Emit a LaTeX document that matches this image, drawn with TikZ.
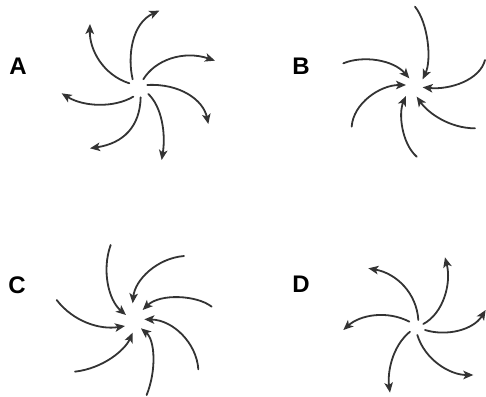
\documentclass[tikz,border=0pt]{standalone}
\usepackage{fontspec}
\setmainfont{Liberation Sans}
\usepackage{tikz}
\usetikzlibrary{arrows.meta}

\tikzset{
  arm/.style={line width=1.8pt, draw=black!80, line cap=round,
    -{Stealth[length=10pt,width=8.5pt,inset=2.5pt]}},
  lbl/.style={font=\bfseries\fontsize{24}{24}\selectfont, inner sep=0pt},
  panel/.style={x=0.3333pt, y=-0.3333pt}
}

\begin{document}
\begin{tikzpicture}[x=1pt, y=-1pt]
  \useasboundingbox (0,0) rectangle (486,396);

  % labels
  \node[lbl] (labA) at (18,66)  {A};
  \node[lbl] (labB) at (301,66) {B};
  \node[lbl] (labC) at (17,285) {C};
  \node[lbl] (labD) at (301,284) {D};

  % A: arms going out
  \begin{scope}[shift={(40,0)}, panel]
    \draw[arm] (278,238) .. controls (262,170) and (275,70) .. (358,32);
    \draw[arm] (268,250) .. controls (190,225) and (148,150) .. (150,72);
    \draw[arm] (310,238) .. controls (345,180) and (430,150) .. (525,182);
    \draw[arm] (322,255) .. controls (420,250) and (490,300) .. (505,372);
    \draw[arm] (325,282) .. controls (365,320) and (378,400) .. (365,480);
    \draw[arm] (302,292) .. controls (300,380) and (250,430) .. (150,445);
    \draw[arm] (280,290) .. controls (220,325) and (130,320) .. (65,280);
  \end{scope}

  % B: arms coming in
  \begin{scope}[shift={(300,0)}, panel]
    \draw[arm] (345,20)  .. controls (385,70)  and (395,180) .. (368,238);
    \draw[arm] (130,190) .. controls (190,165) and (280,180) .. (328,235);
    \draw[arm] (555,180) .. controls (540,240) and (450,270) .. (368,262);
    \draw[arm] (525,385) .. controls (450,385) and (385,340) .. (350,290);
    \draw[arm] (350,470) .. controls (305,430) and (295,340) .. (318,288);
    \draw[arm] (155,380) .. controls (160,310) and (240,255) .. (318,255);
  \end{scope}

  % C: arms coming in
  \begin{scope}[shift={(40,220)}, panel]
    \draw[arm] (212,75)  .. controls (185,150) and (205,240) .. (258,285);
    \draw[arm] (432,108) .. controls (350,115) and (285,180) .. (278,250);
    \draw[arm] (515,260) .. controls (470,225) and (360,220) .. (308,270);
    \draw[arm] (475,448) .. controls (470,370) and (400,300) .. (313,298);
    \draw[arm] (320,525) .. controls (350,450) and (345,360) .. (303,325);
    \draw[arm] (105,455) .. controls (190,445) and (255,390) .. (278,338);
    \draw[arm] (50,240)  .. controls (100,305) and (180,330) .. (255,318);
  \end{scope}

  % D: arms going out
  \begin{scope}[shift={(300,220)}, panel]
    \draw[arm] (355,300) .. controls (350,220) and (290,160) .. (205,145);
    \draw[arm] (370,312) .. controls (430,280) and (455,190) .. (435,112);
    \draw[arm] (375,330) .. controls (440,350) and (520,330) .. (557,270);
    \draw[arm] (352,345) .. controls (375,420) and (450,465) .. (520,465);
    \draw[arm] (330,335) .. controls (275,380) and (262,460) .. (270,518);
    \draw[arm] (328,305) .. controls (260,270) and (180,285) .. (130,330);
  \end{scope}
\end{tikzpicture}
\end{document}
